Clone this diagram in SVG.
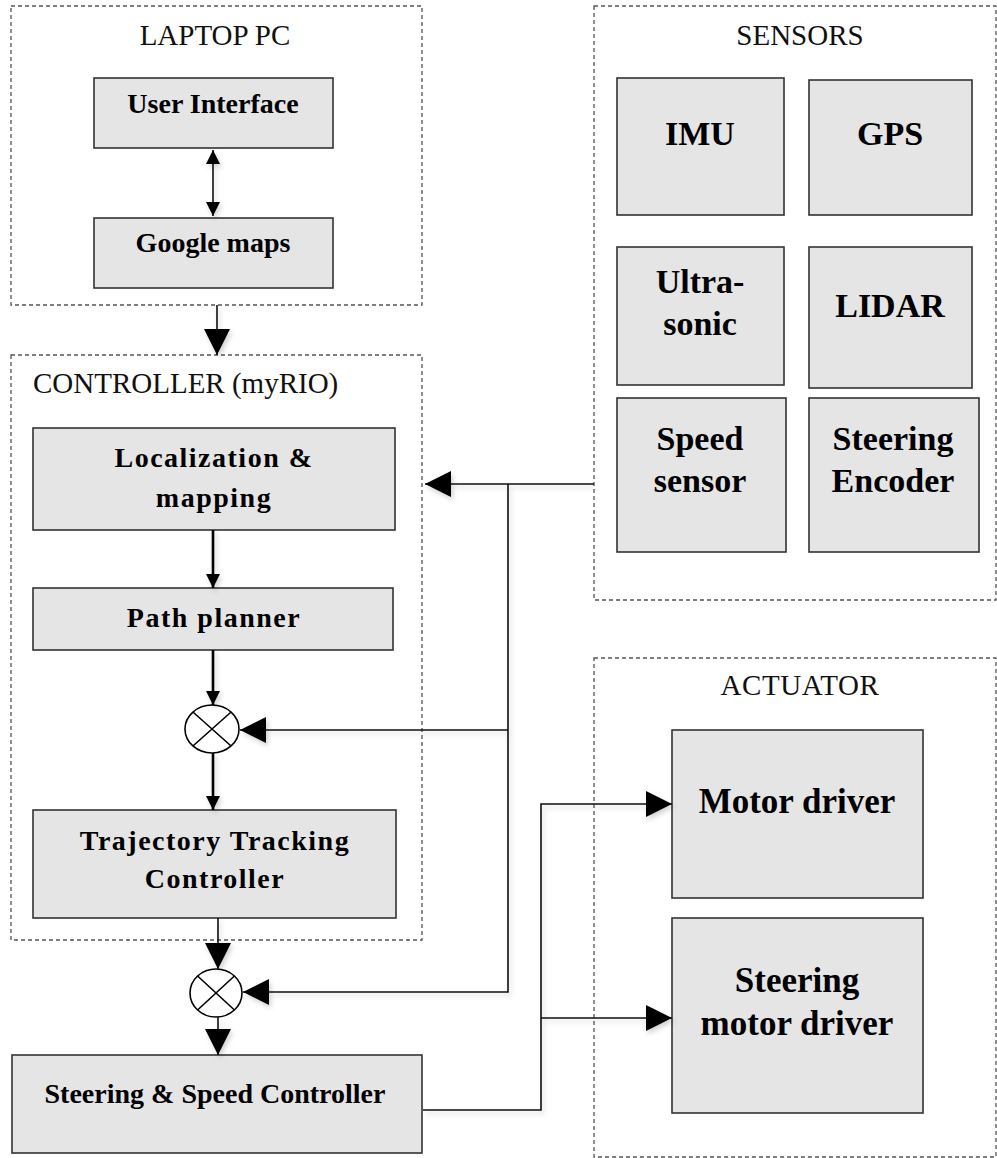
<svg xmlns="http://www.w3.org/2000/svg" width="997" height="1158" viewBox="0 0 997 1158">
  <style>
    .group { fill: none; stroke: #555; stroke-width: 1.3; stroke-dasharray: 4 3; }
    .box { fill: #e5e5e5; stroke: #333; stroke-width: 1.6; }
    .title { font-family: "Liberation Serif", "Times New Roman", serif; font-size: 29px; fill: #111; }
    .lbl { font-family: "Liberation Serif", "Times New Roman", serif; font-weight: bold; fill: #000; text-anchor: middle; }
    .lp { font-size: 28px; }
    .ct { font-size: 28px; letter-spacing: 1.5px; }
    .sn { font-size: 34px; }
    .ac { font-size: 35px; }
    .wire { fill: none; stroke: #111; stroke-width: 1.6; }
    .flow { fill: none; stroke: #000; stroke-width: 2.6; }
    .sum { fill: #fff; stroke: #000; stroke-width: 1.6; }
  </style>
  <defs>
    <marker id="big" markerUnits="userSpaceOnUse" markerWidth="27" markerHeight="27" refX="26" refY="13" orient="auto">
      <path d="M0,0 L26,13 L0,26 z" fill="#000"/>
    </marker>
    <marker id="small" markerUnits="userSpaceOnUse" markerWidth="15" markerHeight="15" refX="14" refY="7" orient="auto-start-reverse">
      <path d="M0,0 L14,7 L0,14 z" fill="#000"/>
    </marker>
    <filter id="shade" x="-20%" y="-20%" width="140%" height="140%">
      <feDropShadow dx="2" dy="3" stdDeviation="2.5" flood-color="#000" flood-opacity="0.18"/>
    </filter>
  </defs>

  <!-- grouping frames -->
  <g id="frames">
    <rect class="group" x="11" y="6" width="411" height="299"/>
    <rect class="group" x="11" y="355" width="411" height="585"/>
    <rect class="group" x="594" y="6" width="402" height="594"/>
    <rect class="group" x="594" y="658" width="402" height="499"/>
    <text class="title" x="215" y="45" text-anchor="middle">LAPTOP PC</text>
    <text class="title" x="33" y="393">CONTROLLER (myRIO)</text>
    <text class="title" x="800" y="45" text-anchor="middle">SENSORS</text>
    <text class="title" x="800" y="695" text-anchor="middle" letter-spacing="0.6">ACTUATOR</text>
  </g>

  <!-- laptop -->
  <g id="user-interface">
    <rect class="box" x="94" y="78" width="239" height="70"/>
    <text class="lbl lp" x="213" y="113">User Interface</text>
  </g>
  <g id="google-maps">
    <rect class="box" x="94" y="218" width="239" height="70"/>
    <text class="lbl lp" x="213" y="252">Google maps</text>
  </g>

  <!-- controller -->
  <g id="localization">
    <rect class="box" x="33" y="428" width="362" height="102"/>
    <text class="lbl ct" x="214" y="467">Localization &amp;</text>
    <text class="lbl ct" x="214" y="507">mapping</text>
  </g>
  <g id="path-planner">
    <rect class="box" x="33" y="588" width="360" height="62"/>
    <text class="lbl ct" x="214" y="627">Path planner</text>
  </g>
  <g id="sum-1">
    <ellipse class="sum" cx="212" cy="729" rx="27" ry="24"/>
    <path class="sum" d="M192.9,712 L231.1,746 M192.9,746 L231.1,712"/>
  </g>
  <g id="trajectory-controller">
    <rect class="box" x="33" y="810" width="363" height="108"/>
    <text class="lbl ct" x="215" y="850">Trajectory Tracking</text>
    <text class="lbl ct" x="215" y="888">Controller</text>
  </g>
  <g id="sum-2">
    <ellipse class="sum" cx="216" cy="993" rx="26" ry="24"/>
    <path class="sum" d="M197.6,976 L234.4,1010 M197.6,1010 L234.4,976"/>
  </g>
  <g id="steering-speed-controller">
    <rect class="box" x="12" y="1055" width="410" height="98"/>
    <text class="lbl lp" x="215" y="1103">Steering &amp; Speed Controller</text>
  </g>

  <!-- sensors -->
  <g id="imu">
    <rect class="box" x="617" y="78" width="167" height="137"/>
    <text class="lbl sn" x="700" y="145">IMU</text>
  </g>
  <g id="gps">
    <rect class="box" x="809" y="80" width="163" height="135"/>
    <text class="lbl sn" x="890" y="145">GPS</text>
  </g>
  <g id="ultrasonic">
    <rect class="box" x="617" y="247" width="167" height="138"/>
    <text class="lbl sn" x="700" y="293">Ultra-</text>
    <text class="lbl sn" x="700" y="335">sonic</text>
  </g>
  <g id="lidar">
    <rect class="box" x="809" y="247" width="163" height="141"/>
    <text class="lbl sn" x="890" y="317">LIDAR</text>
  </g>
  <g id="speed-sensor">
    <rect class="box" x="617" y="398" width="169" height="154"/>
    <text class="lbl sn" x="700" y="450">Speed</text>
    <text class="lbl sn" x="700" y="492">sensor</text>
  </g>
  <g id="steering-encoder">
    <rect class="box" x="809" y="398" width="170" height="154"/>
    <text class="lbl sn" x="893" y="450">Steering</text>
    <text class="lbl sn" x="893" y="492">Encoder</text>
  </g>

  <!-- actuators -->
  <g id="motor-driver">
    <rect class="box" x="672" y="730" width="251" height="168"/>
    <text class="lbl ac" x="797" y="813">Motor driver</text>
  </g>
  <g id="steering-motor-driver">
    <rect class="box" x="672" y="918" width="251" height="195"/>
    <text class="lbl ac" x="797" y="992">Steering</text>
    <text class="lbl ac" x="797" y="1035">motor driver</text>
  </g>

  <!-- connectors -->
  <g id="connectors" filter="url(#shade)">
    <line class="wire" x1="213" y1="150" x2="213" y2="216" stroke-width="2.4" marker-start="url(#small)" marker-end="url(#small)"/>
    <line class="wire" x1="217" y1="305" x2="217" y2="355" stroke-width="2" marker-end="url(#big)"/>
    <line class="flow" x1="213" y1="530" x2="213" y2="588" marker-end="url(#small)"/>
    <line class="flow" x1="213" y1="650" x2="213" y2="705" marker-end="url(#small)"/>
    <line class="flow" x1="213" y1="753" x2="213" y2="810" marker-end="url(#small)"/>
    <line class="wire" x1="218" y1="918" x2="218" y2="969" marker-end="url(#big)"/>
    <line class="wire" x1="218" y1="1017" x2="218" y2="1055" marker-end="url(#big)"/>
    <!-- sensor feedback bus -->
    <line class="wire" x1="594" y1="484" x2="425" y2="484" marker-end="url(#big)"/>
    <polyline class="wire" points="508,484 508,992 243,992" marker-end="url(#big)"/>
    <line class="wire" x1="508" y1="730" x2="240" y2="730" marker-end="url(#big)"/>
    <!-- actuator commands -->
    <polyline class="wire" points="423,1110 541,1110 541,804 672,804" marker-end="url(#big)"/>
    <line class="wire" x1="541" y1="1018" x2="672" y2="1018" marker-end="url(#big)"/>
  </g>
</svg>
